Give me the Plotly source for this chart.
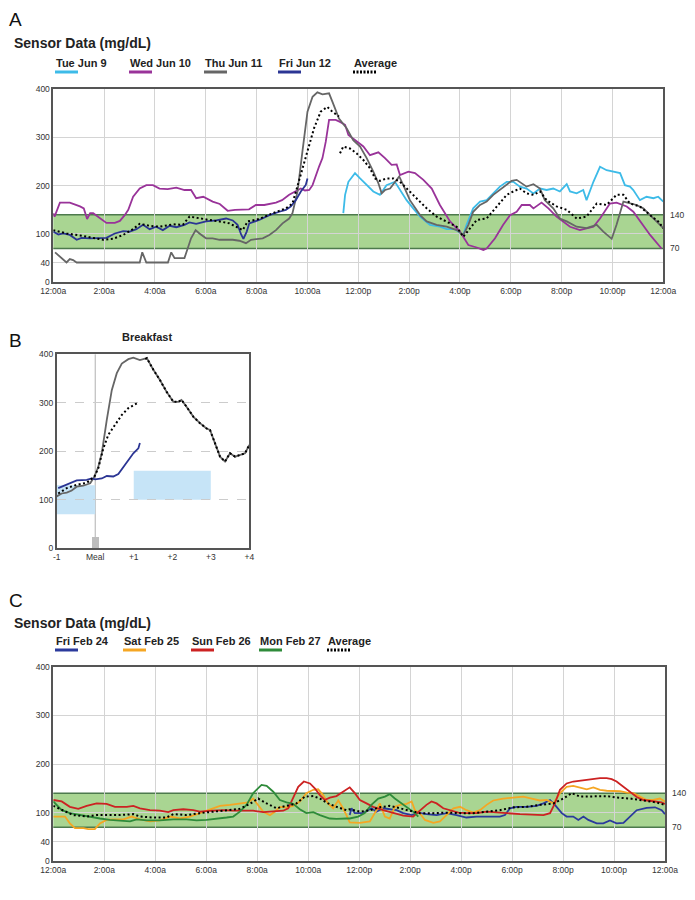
import plotly.graph_objects as go

# The page body adds an 8px margin; the figure is sized so that it fills the 695x900 window.
PAGE_OFF = 8
W, H = 695 - PAGE_OFF, 900 - PAGE_OFF

# ---------------- Panel A data (hours since midnight, mg/dL) ----------------
a_tue_h = [11.41, 11.48, 11.61, 11.87, 12.07, 12.33, 12.59, 12.85, 13.11, 13.44, 13.64, 13.9, 14.16, 14.43, 14.82,
           15.21, 15.48, 15.8, 16.13, 16.26, 16.52, 16.79, 17.05, 17.31, 17.57, 17.84, 18.1, 18.36, 18.62, 18.89,
           19.15, 19.41, 19.67, 19.93, 20.2, 20.33, 20.59, 20.85, 20.98, 21.25, 21.51, 21.77, 22.03, 22.3, 22.49,
           22.69, 22.82, 23.08, 23.34, 23.61, 23.8, 24.0]
a_tue_v = [143, 181, 208, 226, 215, 201, 188, 181, 201, 208, 191, 170, 153, 136, 119,
           115, 110, 110, 98, 119, 153, 167, 170, 184, 198, 208, 208, 198, 194, 184,
           194, 191, 194, 188, 203, 188, 184, 191, 170, 208, 239, 232, 229, 226, 201,
           198, 191, 170, 177, 174, 177, 167]

a_wed_h = [0.0, 0.05, 0.26, 0.65, 1.05, 1.2, 1.33, 1.45, 1.57, 1.83, 2.09, 2.42, 2.62, 2.81, 2.95, 3.14, 3.4, 3.66,
           3.92, 4.18, 4.5, 4.84, 5.16, 5.42, 5.62, 5.9, 6.27, 6.55, 6.86, 7.15, 7.45, 7.7, 7.97, 8.3, 8.76, 9.0,
           9.28, 9.5, 9.74, 9.9, 10.07, 10.2, 10.33, 10.46, 10.59, 10.72, 10.85, 11.11, 11.28, 11.48, 11.61,
           11.87, 12.2, 12.46, 12.79, 13.05, 13.31, 13.51, 13.64, 13.97, 14.23, 14.56, 14.89, 15.21, 15.61, 16.0,
           16.33, 16.66, 16.92, 17.05, 17.38, 17.7, 17.97, 18.23, 18.43, 18.75, 18.89, 19.21, 19.48, 19.8, 20.07,
           20.33, 20.72, 20.98, 21.25, 21.51, 21.7, 21.9, 22.16, 22.56, 22.82, 23.08, 23.48, 23.93]
a_wed_v = [143, 136, 165, 165, 157, 153, 131, 143, 143, 132, 123, 123, 127, 139, 150, 177, 194, 201,
           201, 194, 193, 196, 191, 191, 174, 177, 167, 162, 148, 150, 150, 151, 160, 160, 165, 170,
           181, 188, 194, 190, 191, 201, 222, 240, 257, 291, 336, 336, 332, 326, 305,
           294, 281, 263, 269, 257, 243, 244, 222, 229, 226, 212, 194, 160, 126, 105,
           77, 72, 67, 70, 91, 119, 139, 146, 160, 160, 153, 165, 153, 136, 126,
           115, 108, 112, 115, 132, 146, 163, 165, 157, 146, 126, 98, 70]

a_thu_h = [0.07, 0.33, 0.52, 0.65, 0.78, 0.92, 1.5, 2.5, 3.4, 3.5, 3.66, 4.0, 4.51, 4.64, 4.77, 5.16, 5.29, 5.42,
           5.6, 5.75, 6.01, 6.27, 6.54, 7.06, 7.32, 7.58, 7.78, 8.24, 8.5, 8.76, 9.02, 9.28, 9.41, 9.61, 9.8,
           10.0, 10.2, 10.39, 10.59, 10.85, 10.98, 11.24, 11.54, 11.8, 12.07, 12.33, 12.59, 12.79, 12.92, 13.05,
           13.25, 13.44, 13.61, 13.77, 14.03, 14.43, 14.69, 15.08, 15.48, 15.87, 16.13, 16.33, 16.52, 16.79,
           17.05, 17.31, 17.57, 17.84, 18.03, 18.23, 18.43, 18.62, 18.89, 19.15, 19.34, 19.67, 19.93, 20.2,
           20.59, 20.98, 21.38, 21.64, 21.97, 22.16, 22.43, 22.69, 22.95, 23.21, 23.48, 23.74, 24.0]
a_thu_v = [62, 51, 41, 48, 46, 41, 41, 41, 41, 62, 41, 41, 41, 62, 50, 50, 70, 91,
           108, 101, 91, 91, 88, 88, 86, 81, 88, 91, 98, 108, 122, 132, 143, 188, 270,
           353, 384, 393, 389, 391, 374, 339, 319, 294, 281, 257, 229, 205, 184, 191,
           194, 208, 219, 201, 170, 139, 126, 119, 115, 108, 98, 119, 146, 160,
           167, 181, 191, 201, 210, 212, 205, 198, 203, 194, 170, 153, 132, 126,
           115, 112, 119, 105, 90, 119, 167, 163, 160, 153, 139, 126, 112]

a_fri_h = [0.0, 0.2, 0.39, 0.65, 0.92, 1.11, 1.44, 1.83, 2.09, 2.42, 2.75, 3.01, 3.27, 3.53, 3.79, 4.05, 4.31, 4.58,
           4.84, 5.16, 5.36, 5.62, 6.01, 6.41, 6.8, 7.06, 7.25, 7.39, 7.48, 7.61, 7.71, 8.1, 8.5, 8.89, 9.15,
           9.35, 9.54, 9.74, 9.93, 10.0]
a_fri_v = [105, 99, 101, 98, 88, 92, 91, 91, 92, 101, 106, 105, 110, 119, 110, 115, 108, 117,
           114, 119, 124, 121, 126, 128, 132, 128, 119, 99, 90, 105, 122, 129, 139, 146, 150,
           157, 170, 188, 201, 215]

a_avg_h = [0.0, 0.52, 1.05, 1.57, 1.96, 2.35, 2.75, 3.14, 3.4, 3.79, 4.18, 4.71, 5.1, 5.36, 5.75, 6.14, 6.54, 6.93,
           7.19, 7.45, 7.65, 8.1, 8.63, 9.15, 9.41, 9.61, 9.8, 10.0, 10.26, 10.52, 10.78, 10.98, 11.24, 11.26,
           11.28, 11.41, 11.67, 11.93, 12.2, 12.46, 12.66, 12.85, 13.11, 13.38, 13.64, 13.9, 14.3, 14.69, 15.08,
           15.48, 15.87, 16.13, 16.39, 16.66, 17.05, 17.44, 17.84, 18.1, 18.36, 18.62, 18.89, 19.15, 19.41,
           19.8, 20.2, 20.59, 20.98, 21.38, 21.77, 22.16, 22.43, 22.69, 23.08, 23.48, 23.8, 24.0]
a_avg_v = [108, 101, 97, 91, 88, 90, 98, 110, 121, 117, 115, 120, 119, 136, 132, 129, 126, 122,
           115, 108, 126, 131, 143, 153, 163, 201, 236, 270, 319, 353, 363, 353, 343, None,
           267, 281, 277, 267, 253, 236, 215, 210, 215, 215, 208, 194, 174, 153, 136,
           126, 115, 94, 112, 129, 132, 157, 181, 188, 194, 184, 181, 188, 170,
           157, 150, 132, 136, 163, 160, 181, 181, 163, 157, 139, 126, 112]

# ---------------- Panel B data (hours relative to meal) ----------------
b_thu_h = [-1.0, -0.87, -0.74, -0.61, -0.48, -0.31, -0.13, -0.02, 0.08, 0.17, 0.3, 0.43, 0.56, 0.69, 0.86, 0.99,
           1.16, 1.34, 1.51, 1.68, 1.85, 2.03, 2.16, 2.24, 2.37, 2.55, 2.72, 2.89, 2.98, 3.11, 3.24, 3.37, 3.5,
           3.63, 3.76, 3.89, 4.0]
b_thu_v = [107, 113, 115, 119, 127, 129, 134, 148, 168, 196, 265, 326, 361, 381, 390, 393,
           388, 392, 368, 347, 323, 302, 302, 306, 292, 271, 258, 247, 244, 217, 189, 179, 196,
           189, 192, 196, 213]
b_fri_h = [-0.96, -0.74, -0.48, -0.22, -0.09, 0.0, 0.17, 0.3, 0.47, 0.6, 0.73, 0.86, 0.99, 1.12, 1.16]
b_fri_v = [124, 131, 140, 141, 144, 142, 144, 149, 148, 153, 168, 182, 196, 206, 217]
b_avg_h = [-0.96, -0.74, -0.48, -0.22, -0.02, 0.08, 0.21, 0.34, 0.51, 0.69, 0.86, 1.08, 1.2,
           1.3, 1.34, 1.51, 1.68, 1.85, 2.03, 2.16, 2.24, 2.37, 2.55, 2.72, 2.89, 2.98, 3.11, 3.24, 3.37, 3.5,
           3.63, 3.76, 3.89, 4.0]
b_avg_v = [113, 124, 131, 135, 148, 165, 206, 234, 254, 275, 289, 299, None,
           390, 392, 368, 347, 323, 302, 302, 306, 292, 271, 258, 247, 244, 217, 189, 179, 196,
           189, 192, 196, 213]
b_meal_x = [0.0]
b_meal_v = [22]
b_targets = [(-1, 0, 70, 130), (1, 3, 100, 160)]
b_tick_vals = [-1, 0, 1, 2, 3, 4]
b_tick_text = ["-1", "Meal", "+1", "+2", "+3", "+4"]

# ---------------- Panel C data ----------------
c_fri_h = [11.63, 11.7, 11.83, 12.16, 12.48, 12.68, 12.94, 13.2, 13.47, 13.73, 14.06, 14.32, 14.64, 15.04, 15.43,
           15.82, 16.21, 16.61, 17.0, 17.52, 17.72, 17.92, 18.18, 18.57, 18.96, 19.23, 19.49, 19.68, 19.95,
           20.14, 20.4, 20.6, 20.8, 20.99, 21.32, 21.58, 21.84, 22.1, 22.37, 22.63, 22.89, 23.28, 23.61, 23.87, 24.0]
c_fri_v = [95, 109, 99, 99, 109, 102, 109, 107, 105, 99, 95, 100, 97, 95, 99,
           95, 90, 92, 92, 92, 95, 109, 112, 112, 114, 119, 126, 116, 99,
           92, 92, 85, 92, 85, 78, 78, 84, 78, 79, 92, 105, 110, 111, 105, 97]

c_sat_h = [0.0, 0.46, 0.65, 0.85, 1.18, 1.37, 1.63, 1.83, 2.09, 2.35, 2.75, 3.07, 3.4, 3.79, 4.18, 4.58, 4.97,
           5.36, 5.75, 6.14, 6.54, 6.93, 7.32, 7.65, 7.84, 8.04, 8.24, 8.5, 8.69, 8.89, 9.15, 9.41, 9.67, 9.93,
           10.2, 10.39, 10.59, 10.78, 10.98, 11.18, 11.37, 11.5, 11.63, 12.03, 12.42, 12.68, 12.81, 13.01,
           13.2, 13.4, 13.6, 13.86, 14.06, 14.19, 14.38, 14.58, 14.91, 15.17, 15.43, 15.7, 15.96, 16.21, 16.48,
           16.74, 17.0, 17.26, 17.65, 18.05, 18.44, 18.77, 19.09, 19.36, 19.62, 19.88, 20.14, 20.4, 20.67,
           20.93, 21.19, 21.45, 21.71, 21.97, 22.24, 22.5, 22.76, 23.02, 23.28, 23.54, 23.8, 24.0]
c_sat_v = [92, 92, 78, 68, 68, 66, 66, 78, 85, 86, 86, 92, 86, 82, 84, 92, 88,
           92, 99, 107, 114, 116, 118, 121, 129, 116, 102, 95, 102, 112, 111, 114, 123, 140,
           147, 148, 136, 119, 109, 125, 109, 95, 80, 79, 82, 105, 119, 92,
           88, 112, 116, 118, 123, 105, 99, 85, 79, 82, 95, 109, 112, 105, 100,
           105, 116, 125, 129, 131, 133, 129, 125, 126, 119, 140, 153, 155, 152,
           148, 152, 147, 145, 144, 144, 141, 140, 133, 126, 126, 129, 123]

c_sun_h = [0.0, 0.33, 0.65, 0.98, 1.31, 1.7, 2.09, 2.42, 2.88, 3.14, 3.4, 3.79, 4.18, 4.51, 4.71, 5.1, 5.49, 5.75,
           6.27, 6.67, 7.06, 7.45, 7.84, 8.24, 8.63, 9.02, 9.22, 9.41, 9.61, 9.83, 10.07, 10.26, 10.46, 10.65,
           10.85, 11.11, 11.37, 11.63, 11.83, 12.03, 12.29, 12.55, 12.94, 13.34, 13.73, 14.12, 14.38, 14.64,
           14.84, 15.04, 15.3, 15.56, 15.89, 16.21, 16.61, 17.0, 17.39, 17.79, 18.31, 18.83, 19.23, 19.49, 19.68,
           19.88, 20.14, 20.4, 20.67, 20.93, 21.19, 21.45, 21.71, 21.91, 22.1, 22.37, 22.63, 22.89, 23.15, 23.54,
           23.87, 24.0]
c_sun_v = [126, 123, 112, 108, 114, 119, 118, 112, 112, 114, 109, 105, 104, 101, 105, 107, 105, 102,
           104, 105, 104, 104, 104, 101, 102, 104, 109, 129, 153, 164, 160, 150, 136, 126,
           131, 134, 143, 152, 140, 126, 119, 112, 105, 99, 94, 92, 105, 116,
           123, 119, 109, 105, 100, 99, 99, 102, 100, 99, 97, 95, 95, 99, 119,
           147, 160, 164, 166, 167, 169, 171, 171, 169, 164, 153, 143, 132, 126, 123,
           121, 118]

c_mon_h = [0.0, 0.33, 0.65, 1.05, 1.44, 1.83, 2.22, 2.61, 3.01, 3.27, 3.66, 4.18, 4.71, 5.23, 5.62, 6.01, 6.41, 6.8,
           7.06, 7.32, 7.58, 7.84, 8.17, 8.37, 8.63, 8.89, 9.15, 9.41, 9.67, 9.93, 10.2, 10.46, 10.85, 11.11,
           11.5, 11.63, 11.96, 12.22, 12.48, 12.75, 13.01, 13.2, 13.4, 13.66, 13.92, 14.19, 14.32]
c_mon_v = [123, 105, 99, 95, 92, 88, 85, 84, 82, 86, 84, 84, 86, 86, 84, 85, 87, 90,
           92, 102, 116, 140, 157, 155, 143, 126, 121, 118, 107, 99, 101, 95, 88, 87,
           88, 88, 92, 99, 116, 129, 133, 138, 129, 119, 109, 99, 92]

c_avg_h = [0.0, 0.39, 0.78, 1.31, 1.7, 2.09, 2.61, 3.14, 3.4, 3.92, 4.44, 4.71, 5.23, 5.75, 6.27, 6.8, 7.32, 7.71,
           8.04, 8.37, 8.76, 9.15, 9.54, 9.87, 10.2, 10.46, 10.78, 11.11, 11.5, 11.63, 12.03, 12.42, 12.81,
           13.2, 13.6, 13.99, 14.38, 14.91, 15.43, 15.96, 16.48, 17.0, 17.52, 18.05, 18.57, 19.09, 19.62,
           20.01, 20.34, 20.67, 21.19, 21.71, 22.1, 22.63, 23.15, 23.67, 24.0]
c_avg_v = [114, 105, 95, 92, 95, 95, 95, 97, 92, 90, 90, 97, 95, 99, 102, 105, 108, 118,
           129, 119, 109, 114, 119, 133, 134, 129, 119, 112, 105, 107, 102, 105, 111,
           114, 109, 104, 99, 99, 100, 99, 99, 102, 105, 111, 112, 116, 119,
           129, 140, 133, 134, 134, 131, 129, 125, 121, 116]

day_tick_vals = list(range(0, 25, 2))
day_tick_text = ["12:00a", "2:00a", "4:00a", "6:00a", "8:00a", "10:00a", "12:00p",
                 "2:00p", "4:00p", "6:00p", "8:00p", "10:00p", "12:00a"]
y_tick_vals = [0, 40, 100, 200, 300, 400]
target_low, target_high = 70, 140

legend_a = ["Tue Jun 9", "Wed Jun 10", "Thu Jun 11", "Fri Jun 12", "Average"]
legend_c = ["Fri Feb 24", "Sat Feb 25", "Sun Feb 26", "Mon Feb 27", "Average"]

# ---------------- styles ----------------
CYAN, PURPLE, GRAY, NAVY = "#3dbbe8", "#993399", "#666666", "#2b3594"
BLUE_C, ORANGE, RED, GREEN = "#2b3a9c", "#f5a623", "#cc2222", "#2e8b3a"
FONT = "Liberation Sans, Arial, sans-serif"
AVG_DASH = "2px,2.5px"

def px_x(p):
    return (p - PAGE_OFF) / W

def px_y(p):
    return 1 - (p - PAGE_OFF) / H

fig = go.Figure()

def line(x, y, color, axis, dash=None, width=1.8):
    fig.add_trace(go.Scatter(x=x, y=y, mode="lines", xaxis="x" + axis, yaxis="y" + axis,
                             line=dict(color=color, width=width, dash=dash), connectgaps=False,
                             showlegend=False, hoverinfo="skip"))

# Panel A
line(a_tue_h, a_tue_v, CYAN, "")
line(a_wed_h, a_wed_v, PURPLE, "")
line(a_thu_h, a_thu_v, GRAY, "")
line(a_fri_h, a_fri_v, NAVY, "")
line(a_avg_h, a_avg_v, "#000000", "", dash=AVG_DASH, width=2)

# Panel B
fig.add_trace(go.Bar(x=b_meal_x, y=b_meal_v, width=0.17, xaxis="x2", yaxis="y2",
                     marker=dict(color="#bdbdbd", line=dict(width=0)), showlegend=False, hoverinfo="skip"))
line(b_thu_h, b_thu_v, GRAY, "2")
line(b_fri_h, b_fri_v, NAVY, "2")
line(b_avg_h, b_avg_v, "#000000", "2", dash=AVG_DASH, width=2)

# Panel C
line(c_fri_h, c_fri_v, BLUE_C, "3")
line(c_sat_h, c_sat_v, ORANGE, "3")
line(c_sun_h, c_sun_v, RED, "3")
line(c_mon_h, c_mon_v, GREEN, "3")
line(c_avg_h, c_avg_v, "#000000", "3", dash=AVG_DASH, width=2)

tickfont = dict(family=FONT, size=8.5, color="#333")

def day_x(domain):
    return dict(domain=domain, range=[0, 24], tickvals=day_tick_vals, ticktext=day_tick_text,
                showgrid=True, gridcolor="#d4d4d4", gridwidth=1, zeroline=False,
                showline=True, linecolor="#555", linewidth=1.5, mirror=True,
                ticks="", tickfont=tickfont, fixedrange=True, automargin=False)

def day_y(domain, anchor):
    return dict(domain=domain, anchor=anchor, range=[0, 400], tickvals=y_tick_vals,
                showgrid=True, gridcolor="#d4d4d4", gridwidth=1, zeroline=False,
                showline=True, linecolor="#555", linewidth=1.5, mirror=True,
                ticks="", tickfont=tickfont, fixedrange=True, automargin=False)

fig.update_layout(
    width=W, height=H, margin=dict(l=0, r=0, t=0, b=0, pad=0, autoexpand=False),
    paper_bgcolor="white", plot_bgcolor="white", showlegend=False,
    xaxis=dict(**day_x([px_x(53.3), px_x(663.3)]), anchor="y"),
    yaxis=day_y([px_y(282.3), px_y(89)], "x"),
    xaxis2=dict(domain=[px_x(56.7), px_x(249.3)], anchor="y2", range=[-1, 4],
                tickvals=b_tick_vals, ticktext=b_tick_text, showgrid=False, zeroline=False,
                showline=True, linecolor="#555", linewidth=1.5, mirror=True, ticks="",
                tickfont=tickfont, fixedrange=True, automargin=False),
    yaxis2=dict(domain=[px_y(548.3), px_y(354.3)], anchor="x2", range=[0, 400],
                tickvals=[0, 100, 200, 300, 400], showgrid=True, gridcolor="#cccccc", griddash="dash",
                zeroline=False, showline=True, linecolor="#555", linewidth=1.5, mirror=True,
                ticks="", tickfont=tickfont, fixedrange=True, automargin=False),
    xaxis3=dict(**day_x([px_x(53.3), px_x(665)]), anchor="y3"),
    yaxis3=day_y([px_y(861.3), px_y(666.7)], "x3"),
    bargap=0,
)

shapes = []
annos = []
# target bands A & C
for xa, ya in (("x", "y"), ("x3", "y3")):
    shapes.append(dict(type="rect", xref=xa + " domain", yref=ya, x0=0, x1=1, y0=target_low, y1=target_high,
                       fillcolor="#a9d592", line=dict(width=0), layer="below"))
    for yv in (target_low, target_high):
        shapes.append(dict(type="line", xref=xa + " domain", yref=ya, x0=0, x1=1, y0=yv, y1=yv,
                           line=dict(color="#4d7a4d", width=1.5), layer="below"))
        annos.append(dict(xref=xa + " domain", yref=ya, x=1.008, y=yv, text=str(yv), showarrow=False,
                          xanchor="left", yanchor="middle", font=dict(family=FONT, size=8.5, color="#333")))

# Panel B target rects & meal line
for x0, x1, y0, y1 in b_targets:
    shapes.append(dict(type="rect", xref="x2", yref="y2", x0=x0, x1=x1, y0=y0, y1=y1,
                       fillcolor="#c6e4f7", line=dict(width=0), layer="below"))
shapes.append(dict(type="line", xref="x2", yref="y2 domain", x0=0, x1=0, y0=0, y1=1,
                   line=dict(color="#b0b0b0", width=1), layer="below"))

# panel letters and titles
for letter, ytop in (("A", 8), ("B", 329), ("C", 589)):
    annos.append(dict(xref="paper", yref="paper", x=px_x(8), y=px_y(ytop), text=letter, showarrow=False,
                      xanchor="left", yanchor="top", borderpad=0,
                      font=dict(family=FONT, size=19, color="#111")))
for yc in (43, 623):
    annos.append(dict(xref="paper", yref="paper", x=px_x(12), y=px_y(yc), text="<b>Sensor Data (mg/dL)</b>",
                      showarrow=False, xanchor="left", yanchor="middle",
                      font=dict(family=FONT, size=14, color="#222")))
annos.append(dict(xref="paper", yref="paper", x=px_x(146.7), y=px_y(337), text="<b>Breakfast</b>",
                  showarrow=False, xanchor="center", yanchor="middle", font=dict(family=FONT, size=11, color="#222")))

# legends
def legend(labels, colors, xs, yc, yl):
    for lab, col, x in zip(labels, colors, xs):
        annos.append(dict(xref="paper", yref="paper", x=px_x(x - 1), y=px_y(yc), text="<b>" + lab + "</b>",
                          showarrow=False, xanchor="left", yanchor="middle",
                          font=dict(family=FONT, size=11, color="#222")))
        dash = "2px,1.5px" if lab == "Average" else "solid"
        shapes.append(dict(type="line", xref="paper", yref="paper", x0=px_x(x), x1=px_x(x + 23),
                           y0=px_y(yl), y1=px_y(yl), line=dict(color=col, width=3, dash=dash)))

legend(legend_a, [CYAN, PURPLE, GRAY, NAVY, "#000000"], [55, 129, 204, 278, 353], 63, 72)
legend(legend_c, [BLUE_C, ORANGE, RED, GREEN, "#000000"], [55, 123, 191, 259, 327], 641, 650)

fig.update_layout(shapes=shapes, annotations=annos)
fig.write_html("out.html")
